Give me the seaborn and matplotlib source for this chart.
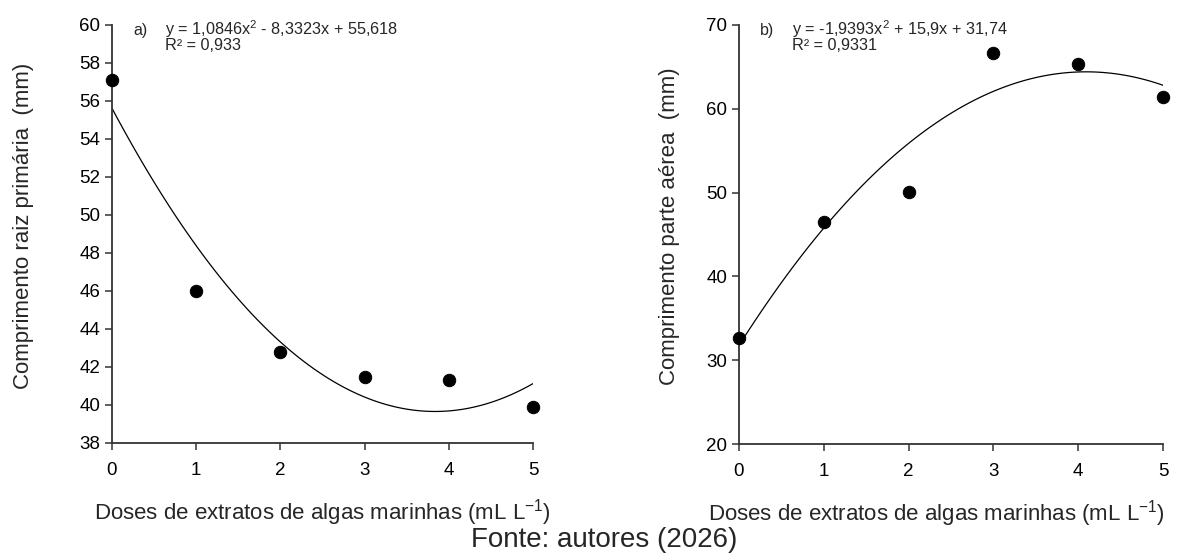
import numpy as np
import pandas as pd
import seaborn as sns
import matplotlib.pyplot as plt

# Data
doses = [0, 1, 2, 3, 4, 5]
raiz = [57.1, 46.0, 42.8, 41.45, 41.3, 39.9]
aerea = [32.6, 46.5, 50.1, 66.7, 65.4, 61.4]

eq_a = "y = 1,0846x$^2$ - 8,3323x + 55,618\nR\u00b2 = 0,933"
eq_b = "y = -1,9393x$^2$ + 15,9x + 31,74\nR\u00b2 = 0,9331"
xlabel = "Doses de extratos de algas marinhas (mL L$^{-1}$)"

sns.set_style("ticks")
plt.rcParams['font.family'] = ['Liberation Sans', 'DejaVu Sans']
plt.rcParams['mathtext.fontset'] = 'custom'
plt.rcParams['mathtext.rm'] = 'Liberation Sans'
plt.rcParams['mathtext.it'] = 'Liberation Sans'
plt.rcParams['mathtext.default'] = 'regular'

df = pd.DataFrame({'dose': doses, 'raiz': raiz, 'aerea': aerea})

fig = plt.figure(figsize=(11.9, 5.58), dpi=100)
ax1 = fig.add_axes([0.0941, 0.2061, 0.3538, 0.7491])
ax2 = fig.add_axes([0.621, 0.2043, 0.3563, 0.7509])

panels = [
    (ax1, 'raiz', "Comprimento raiz primária  (mm)", (38, 60), np.arange(38, 61, 2),
     "a)", eq_a, -0.185, 0.5),
    (ax2, 'aerea', "Comprimento parte aérea  (mm)", (20, 70), np.arange(20, 71, 10),
     "b)", eq_b, -0.139, 0.465),
]

for ax, col, ylab, ylim, yticks, tag, eq, ylx, xlx in panels:
    sns.regplot(data=df, x='dose', y=col, order=2, ci=None, scatter=False,
                line_kws={'color': 'black', 'lw': 0.9}, ax=ax)
    sns.scatterplot(data=df, x='dose', y=col, color='black', s=80,
                    edgecolor='black', zorder=5, clip_on=False, ax=ax)
    ax.set_xlim(0, 5)
    ax.set_ylim(*ylim)
    ax.set_yticks(yticks)
    ax.set_xticks(doses)
    ax.set_ylabel(ylab, fontsize=16)
    ax.set_xlabel(xlabel, fontsize=16)
    ax.yaxis.set_label_coords(ylx, 0.52)
    ax.xaxis.set_label_coords(xlx, -0.13)
    sns.despine(ax=ax)
    for s in ['left', 'bottom']:
        ax.spines[s].set_color('#333333')
        ax.spines[s].set_linewidth(1.3)
    ax.tick_params(colors='#333333', labelcolor='black', labelsize=13.5,
                   length=5, width=1.1)
    ax.tick_params(axis='x', pad=9)
    ax.text(0.05, 1.005, tag, transform=ax.transAxes, fontsize=11.5, va='top')
    ax.text(0.125, 1.015, eq, transform=ax.transAxes, fontsize=11.7, va='top',
            linespacing=0.8)

fig.text(0.508, 0.032, "Fonte: autores (2026)", ha='center', va='center', fontsize=20)

fig.savefig("out.png", dpi=100)
